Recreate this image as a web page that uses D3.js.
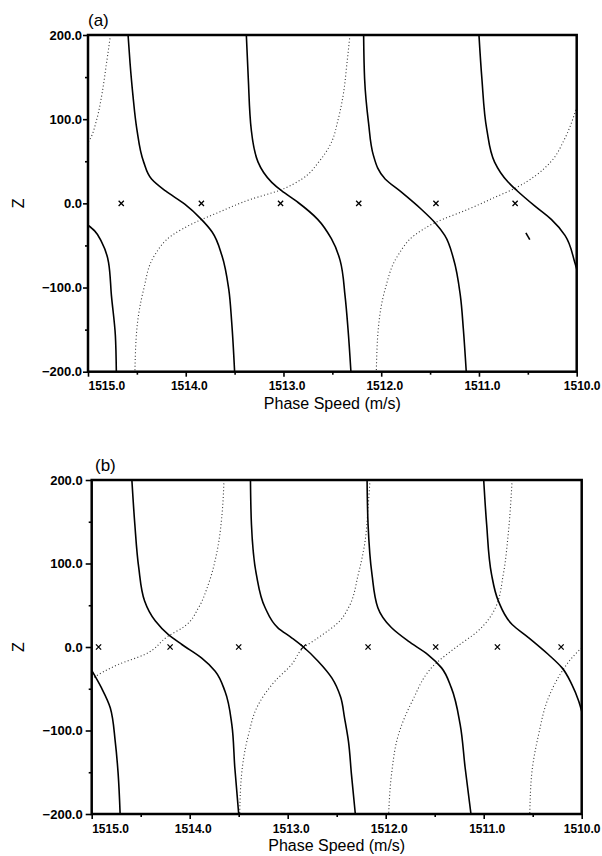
<!DOCTYPE html>
<html><head><meta charset="utf-8">
<script src="https://cdn.jsdelivr.net/npm/d3@7"></script>
<style>body{margin:0;background:#fff}</style></head>
<body><svg id="chart" width="602" height="856"></svg>
<script>
// ---------- data ----------
const xTicks = [1515, 1514, 1513, 1512, 1511, 1510];
const xMinorTicks = [1514.5, 1513.5, 1512.5, 1511.5, 1510.5];
const yTicks = [-200, -100, 0, 100, 200];
const yMinorTicks = [-150, -50, 50, 150];
const xDomain = [1515, 1510];
const yDomain = [-200, 200];

// panel (a) solid curves [phase speed, z]
const solidA1 = [[1515.0,-26],[1514.93,-33],[1514.86,-46],[1514.79,-70],[1514.76,-110],[1514.72,-157],[1514.71,-200]];
const solidA2 = [[1514.59,200],[1514.57,167],[1514.54,128],[1514.50,88],[1514.43,49],[1514.35,29],[1514.21,15],[1514.01,-1],[1513.84,-19],[1513.73,-34],[1513.63,-62],[1513.56,-102],[1513.53,-141],[1513.50,-200]];
const solidA3 = [[1513.38,200],[1513.36,148],[1513.33,88],[1513.26,49],[1513.12,25],[1513.02,15],[1512.85,1],[1512.65,-19],[1512.51,-42],[1512.42,-68],[1512.37,-110],[1512.34,-149],[1512.31,-200]];
const solidA4 = [[1512.18,200],[1512.17,148],[1512.13,96],[1512.08,57],[1511.96,29],[1511.79,13],[1511.59,-7],[1511.45,-23],[1511.35,-38],[1511.26,-66],[1511.19,-110],[1511.16,-149],[1511.13,-200]];
const solidA5 = [[1511.00,200],[1510.97,148],[1510.92,88],[1510.84,49],[1510.70,25],[1510.61,15],[1510.43,-3],[1510.26,-19],[1510.12,-38],[1510.02,-70],[1510.00,-78]];
// panel (a) dotted curves
const dottedA1 = [[1514.77,200],[1514.81,167],[1514.86,128],[1514.91,100],[1514.98,76],[1515.0,72]];
const dottedA2 = [[1514.52,-200],[1514.50,-149],[1514.43,-102],[1514.32,-62],[1514.14,-38],[1513.91,-23],[1513.67,-11],[1513.33,5],[1513.05,15],[1512.81,29],[1512.64,49],[1512.52,70],[1512.44,100],[1512.39,128],[1512.35,167],[1512.32,200]];
const dottedA3 = [[1512.05,-200],[1512.03,-149],[1511.96,-102],[1511.83,-62],[1511.66,-38],[1511.45,-23],[1511.11,-7],[1510.84,7],[1510.63,18],[1510.42,33],[1510.26,50],[1510.13,75],[1510.04,100],[1510.0,115]];
const markersA = [1514.66, 1513.84, 1513.03, 1512.23, 1511.44, 1510.63];
const strayMarkA = [[1510.52,-35],[1510.48,-43]];

// panel (b) solid curves
const solidB1 = [[1515.0,-28],[1514.90,-49],[1514.81,-73],[1514.76,-113],[1514.73,-152],[1514.71,-200]];
const solidB2 = [[1514.59,200],[1514.56,147],[1514.52,95],[1514.46,55],[1514.35,31],[1514.22,15],[1514.08,3],[1513.88,-13],[1513.74,-29],[1513.64,-53],[1513.57,-93],[1513.54,-144],[1513.50,-200]];
const solidB3 = [[1513.38,200],[1513.37,147],[1513.32,87],[1513.23,47],[1513.10,23],[1512.96,11],[1512.84,0],[1512.69,-17],[1512.55,-37],[1512.46,-60],[1512.42,-85],[1512.38,-113],[1512.35,-152],[1512.31,-200]];
const solidB4 = [[1512.19,200],[1512.18,147],[1512.14,87],[1512.08,47],[1511.94,23],[1511.77,7],[1511.57,-9],[1511.43,-25],[1511.33,-49],[1511.24,-93],[1511.19,-144],[1511.13,-200]];
const solidB5 = [[1511.00,200],[1510.97,147],[1510.92,87],[1510.85,55],[1510.71,27],[1510.54,11],[1510.34,-9],[1510.20,-25],[1510.10,-45],[1510.03,-65],[1510.0,-77]];
// panel (b) dotted curves
const dottedB1 = [[1515.0,-38],[1514.73,-21],[1514.46,-9],[1514.22,13],[1514.05,25],[1513.91,47],[1513.81,75],[1513.72,115],[1513.67,159],[1513.65,200]];
const dottedB2 = [[1513.49,-200],[1513.47,-152],[1513.40,-105],[1513.30,-69],[1513.13,-41],[1512.96,-21],[1512.84,-1],[1512.69,11],[1512.47,31],[1512.38,47],[1512.28,87],[1512.21,127],[1512.18,167],[1512.16,200]];
const dottedB3 = [[1511.97,-200],[1511.94,-152],[1511.87,-105],[1511.73,-65],[1511.50,-21],[1511.29,-1],[1511.06,19],[1510.88,47],[1510.80,87],[1510.75,135],[1510.71,200]];
const dottedB4 = [[1510.53,-200],[1510.51,-152],[1510.44,-105],[1510.34,-61],[1510.20,-29],[1510.10,-13],[1510.0,-1]];
const markersB = [1514.93, 1514.20, 1513.50, 1512.84, 1512.18, 1511.49, 1510.86, 1510.21];

const xTitle = "Phase Speed (m/s)";
const yTitle = "Z";

// ---------- drawing ----------
const svg = d3.select("#chart");
const fmt = d3.format(".1f");

const panels = [
  { id: "a", label: "(a)", l: 88, r: 576.7, t: 35, b: 371.7, labelX: 88, labelY: 26,
    yTickLen: 5, yPad: 1, solid: [solidA1, solidA2, solidA3, solidA4, solidA5],
    dotted: [dottedA1, dottedA2, dottedA3], markers: markersA, stray: [strayMarkA] },
  { id: "b", label: "(b)", l: 91.7, r: 581.7, t: 480, b: 814, labelX: 95, labelY: 471,
    yTickLen: 6, yPad: 3, solid: [solidB1, solidB2, solidB3, solidB4, solidB5],
    dotted: [dottedB1, dottedB2, dottedB3, dottedB4], markers: markersB, stray: [] }
];

const tickFont = "'Liberation Sans', Arial, sans-serif";

panels.forEach(p => {
  const x = d3.scaleLinear().domain(xDomain).range([p.l, p.r]);
  const y = d3.scaleLinear().domain(yDomain).range([p.b, p.t]);
  const g = svg.append("g");

  g.append("clipPath").attr("id", "clip-" + p.id)
    .append("rect").attr("x", p.l).attr("y", p.t).attr("width", p.r - p.l).attr("height", p.b - p.t);

  // curves are monotone in z: draw ordered from top to bottom with a monotone spline
  const line = d3.line().x(d => x(d[0])).y(d => y(d[1])).curve(d3.curveMonotoneY);
  const ordered = pts => pts.slice().sort((a, b) => b[1] - a[1]);
  const plot = g.append("g").attr("clip-path", `url(#clip-${p.id})`);

  plot.selectAll(".dotted").data(p.dotted).join("path")
    .attr("d", d => line(ordered(d))).attr("fill", "none").attr("stroke", "#333")
    .attr("stroke-width", 1.1).attr("stroke-dasharray", "1,2.4");
  plot.selectAll(".solid").data(p.solid).join("path")
    .attr("d", d => line(ordered(d))).attr("fill", "none").attr("stroke", "#000")
    .attr("stroke-width", 1.6);
  plot.selectAll(".stray").data(p.stray).join("path")
    .attr("d", d3.line().x(d => x(d[0])).y(d => y(d[1])))
    .attr("fill", "none").attr("stroke", "#000").attr("stroke-width", 1.6);

  // x markers at z = 0
  const s = 2.6;
  plot.selectAll(".mk").data(p.markers).join("path")
    .attr("d", d => {
      const cx = x(d), cy = y(0);
      return `M${cx - s},${cy - s}L${cx + s},${cy + s}M${cx - s},${cy + s}L${cx + s},${cy - s}`;
    })
    .attr("stroke", "#000").attr("stroke-width", 1.3).attr("fill", "none");

  // axes
  const xAxis = g.append("g").attr("transform", `translate(0,${p.b})`)
    .call(d3.axisBottom(x).tickValues(xTicks).tickFormat(fmt).tickSize(5).tickPadding(5));
  const xMinor = g.append("g").attr("transform", `translate(0,${p.b})`)
    .call(d3.axisBottom(x).tickValues(xMinorTicks).tickFormat("").tickSize(3));
  const yAxis = g.append("g").attr("transform", `translate(${p.l},0)`)
    .call(d3.axisLeft(y).tickValues(yTicks).tickFormat(fmt).tickSize(p.yTickLen).tickPadding(p.yPad));
  const yMinor = g.append("g").attr("transform", `translate(${p.l},0)`)
    .call(d3.axisLeft(y).tickValues(yMinorTicks).tickFormat("").tickSize(3));

  [xAxis, xMinor, yAxis, yMinor].forEach(a => {
    a.select(".domain").remove();
    a.selectAll("line").attr("stroke", "#000").attr("stroke-width", 1.6);
  });
  xAxis.selectAll("text").attr("font-family", tickFont).attr("font-weight", "bold")
    .attr("font-size", 12).attr("fill", "#000").attr("dx", 3);
  xAxis.selectAll("text").filter(d => d === xTicks[0]).attr("text-anchor", "start").attr("dx", 0);
  xAxis.selectAll("text").filter(d => d === xTicks[xTicks.length - 1])
    .attr("text-anchor", "end").attr("dx", 0).attr("x", 600 - p.r);
  yAxis.selectAll("text").attr("font-family", tickFont).attr("font-weight", "bold")
    .attr("font-size", 13).attr("fill", "#000");

  // frame
  g.append("rect").attr("x", p.l).attr("y", p.t).attr("width", p.r - p.l).attr("height", p.b - p.t)
    .attr("fill", "none").attr("stroke", "#000").attr("stroke-width", 2.5);

  // titles
  g.append("text").attr("x", (p.l + p.r) / 2).attr("y", p.b + 37)
    .attr("text-anchor", "middle").attr("font-family", tickFont).attr("font-size", 16)
    .attr("fill", "#000").text(xTitle);
  g.append("text").attr("transform", `translate(24,${y(0)}) rotate(-90)`)
    .attr("text-anchor", "middle").attr("font-family", tickFont).attr("font-size", 16)
    .attr("fill", "#000").text(yTitle);
  g.append("text").attr("x", p.labelX).attr("y", p.labelY)
    .attr("font-family", tickFont).attr("font-size", 17).attr("fill", "#000").text(p.label);
});
</script></body></html>
